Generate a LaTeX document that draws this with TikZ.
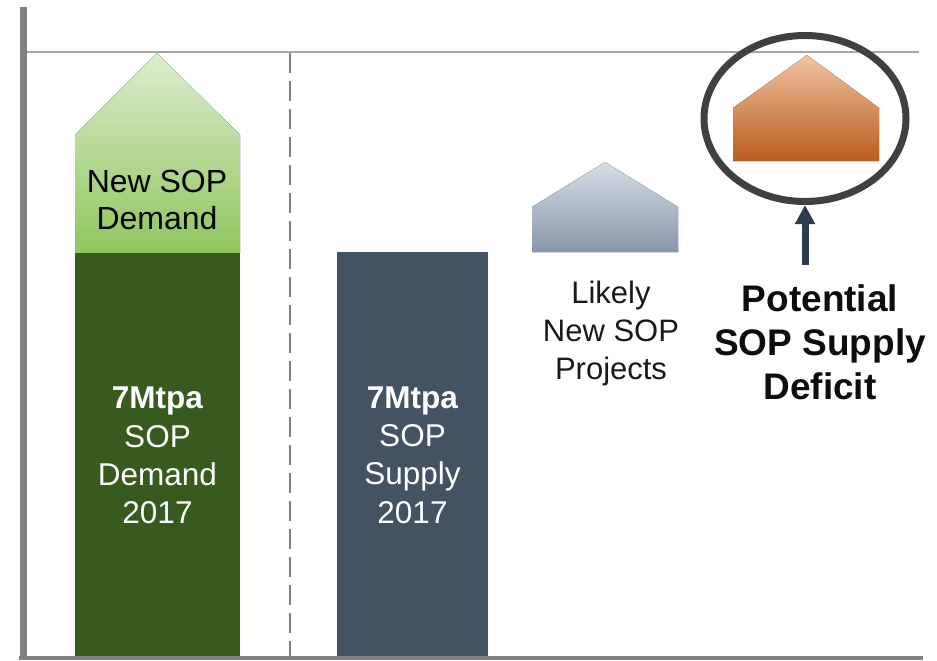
\documentclass[tikz,border=0pt]{standalone}
\usepackage{fontspec}
\setmainfont{Liberation Sans}
\usetikzlibrary{positioning,shapes.geometric,arrows.meta}

\definecolor{axisgray}{HTML}{808080}
\definecolor{gridgray}{HTML}{A6A6A6}
\definecolor{demandgreen}{HTML}{375A1F}
\definecolor{newtop}{HTML}{DCEDCE}
\definecolor{newbottom}{HTML}{90C55C}
\definecolor{supplyslate}{HTML}{435364}
\definecolor{projtop}{HTML}{D7DEE5}
\definecolor{projbottom}{HTML}{8797AC}
\definecolor{deftop}{HTML}{F0C4A3}
\definecolor{defbottom}{HTML}{B95C1E}
\definecolor{ringgray}{HTML}{404040}
\definecolor{arrowslate}{HTML}{2E3B4A}

\begin{document}
\begin{tikzpicture}[x=1pt,y=-1pt,
    bar/.style={rectangle,inner sep=0pt,outer sep=0pt,text=white,align=center,
      font=\fontsize{31.5}{38.3}\selectfont},
    plainlabel/.style={align=center,inner sep=0pt,font=\fontsize{32}{37}\selectfont},
    boldlabel/.style={align=center,inner sep=0pt,font=\fontsize{37}{44}\selectfont\bfseries},
    ring/.style={ellipse,draw=ringgray,line width=7pt,inner sep=0pt,
      minimum width=202pt,minimum height=166pt},
    deficitarrow/.style={draw=arrowslate,line width=7pt,
      -{Triangle[width=19pt,length=19pt]}}]
  \useasboundingbox (0,0) rectangle (937,661);

  % frame and divider
  \draw[gridgray,line width=2.5pt] (27,52) -- (919,52);
  \draw[axisgray,line width=2pt,dash pattern=on 20pt off 8pt] (290,53) -- (290,656);

  % demand column
  \fill[top color=newtop,bottom color=newbottom]
    (75,253) -- (75,135) -- (157,53) -- (240,135) -- (240,253) -- cycle;
  \node[plainlabel] (newdemand) at (157,200) {New SOP\\Demand};
  \node[bar,fill=demandgreen,minimum width=165pt,minimum height=405pt] (demand)
    at (157.5,455.5) {\textbf{7Mtpa}\\SOP\\Demand\\2017};

  % supply column
  \node[bar,fill=supplyslate,minimum width=151pt,minimum height=406pt] (supply)
    at (412.5,455) {\textbf{7Mtpa}\\SOP\\Supply\\2017};
  \fill[top color=projtop,bottom color=projbottom]
    (532,252) -- (532,207) -- (605,162) -- (678,207) -- (678,252) -- cycle;
  \node[plainlabel,font=\fontsize{31}{38}\selectfont,text=black!90] (projects)
    at (611,333) {Likely\\New SOP\\Projects};

  % deficit
  \fill[top color=deftop,bottom color=defbottom]
    (733,161) -- (733,108) -- (807,55) -- (879,108) -- (879,161) -- cycle;
  \node[ring] (ring) at (805,118.5) {};
  \node[boldlabel,text=black!95] (deficit) at (820,342) {Potential\\SOP Supply\\Deficit};
  \coordinate (arrowfoot) at (805,265);
  \draw[deficitarrow] (arrowfoot) -- (ring.south);

  % axes
  \draw[axisgray,line width=3.5pt] (19,658) -- (923,658);
  \draw[axisgray,line width=7pt] (23,7) -- (23,660);
\end{tikzpicture}
\end{document}
